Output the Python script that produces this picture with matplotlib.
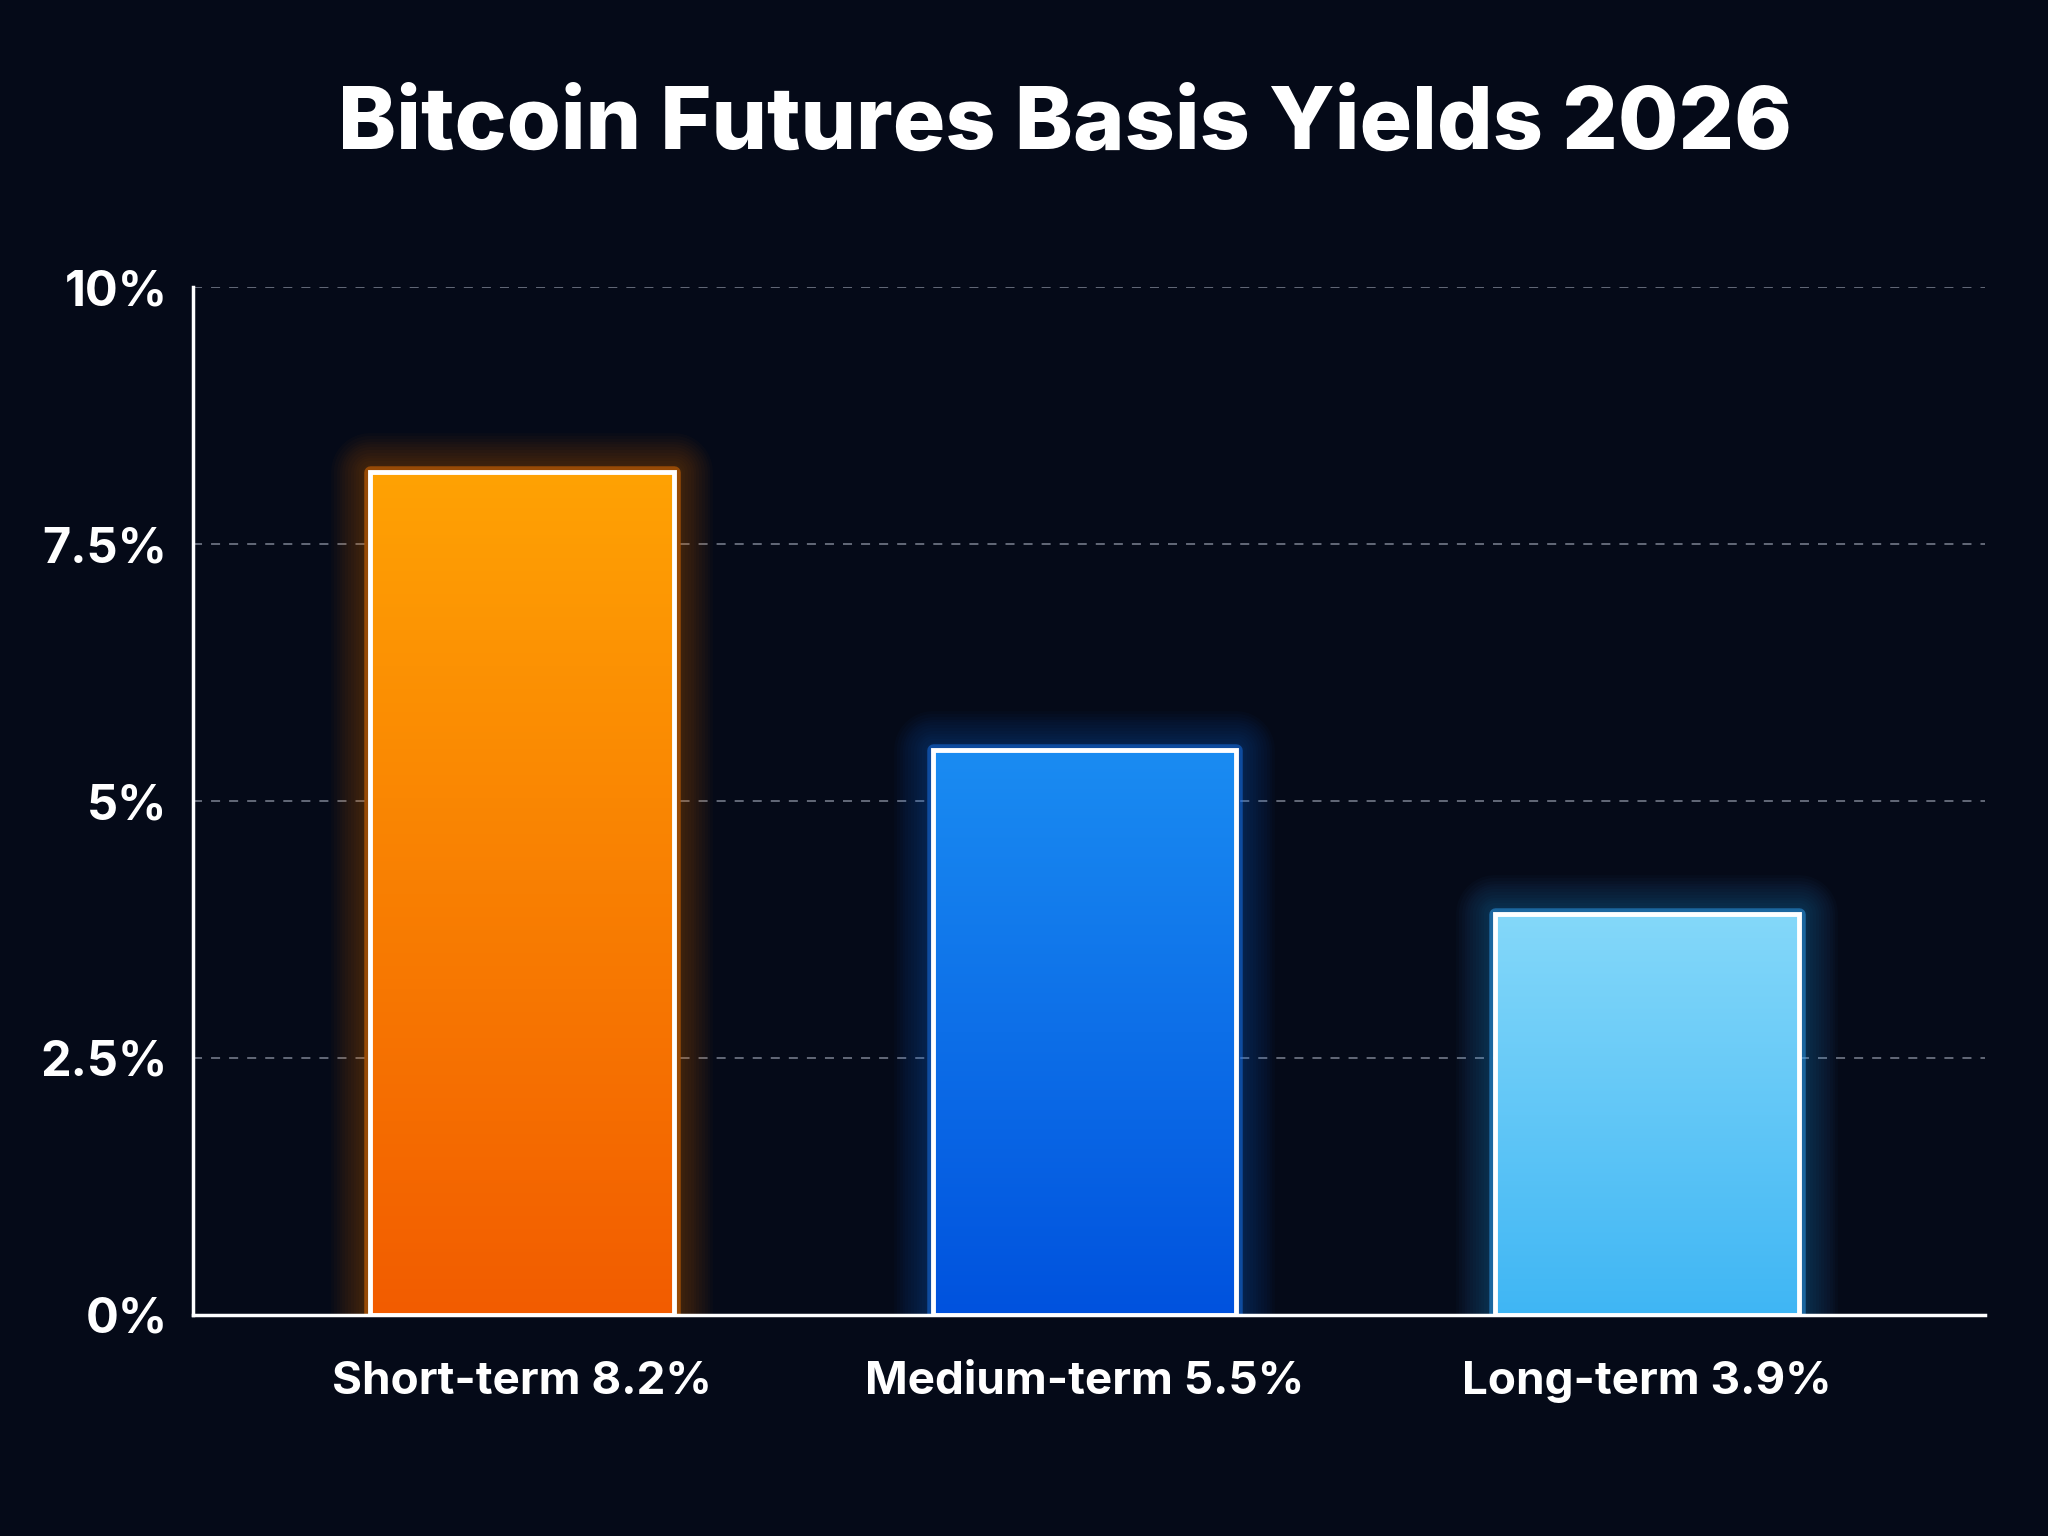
import matplotlib.pyplot as plt
import numpy as np
from matplotlib.colors import LinearSegmentedColormap
from matplotlib.patches import Rectangle

plt.rcParams['font.family'] = ['Inter', 'DejaVu Sans']

# data
categories = ['Short-term', 'Medium-term', 'Long-term']
yields = [8.2, 5.5, 3.9]
top_colors = ['#ffa204', '#1a8cf2', '#84d8fa']
bottom_colors = ['#f25c00', '#0052de', '#3fb6f4']
glow_colors = ['#ff7a00', '#1a7cff', '#33aaff']
y_ticks = [0, 2.5, 5, 7.5, 10]
y_tick_labels = ['0%', '2.5%', '5%', '7.5%', '10%']

bg = '#050a18'
fig = plt.figure(figsize=(20.48, 15.36), dpi=100, facecolor=bg)
ax = fig.add_axes([0.094, 0.144, 0.875, 0.669], facecolor=bg)

x = np.arange(len(categories))
width = 0.54

ax.set_xlim(-0.586, 2.6)
ax.set_ylim(0, 10)

# dashed grid
for t in y_ticks[1:]:
    ax.axhline(t, color='#6a7080', lw=1.3, ls=(0, (5, 5)), zorder=1)

for xi, val, c_top, c_bot, c_glow in zip(x, yields, top_colors, bottom_colors, glow_colors):
    left = xi - width / 2
    # soft glow: stacked translucent outlines
    for lw in np.arange(56, 4, -4):
        ax.add_patch(Rectangle((left, 0), width, val, fill=False, edgecolor=c_glow,
                               lw=lw, alpha=0.025, zorder=2, joinstyle='round'))
    ax.add_patch(Rectangle((left, 0), width, val, fill=False, edgecolor=c_glow,
                           lw=9, alpha=0.45, zorder=2, joinstyle='round'))
    # gradient fill
    cmap = LinearSegmentedColormap.from_list('g', [c_bot, c_top])
    grad = np.linspace(0, 1, 256).reshape(-1, 1)
    im = ax.imshow(grad, cmap=cmap, extent=[left, left + width, 0, val],
                   origin='lower', aspect='auto', zorder=3)
    rect = Rectangle((left, 0), width, val, fill=False, edgecolor='white', lw=3.5, zorder=4)
    ax.add_patch(rect)
    im.set_clip_path(rect)
    ax.text(xi, -0.65, f'{categories[xi]} {val}%', ha='center', va='center',
            color='white', fontsize=33, fontweight='bold', zorder=5)

ax.set_xticks([])
ax.set_yticks(y_ticks)
ax.set_yticklabels(y_tick_labels, color='white', fontsize=35, fontweight='bold')
ax.tick_params(axis='y', length=0, pad=18)

for s in ['top', 'right']:
    ax.spines[s].set_visible(False)
for s in ['left', 'bottom']:
    ax.spines[s].set_color('white')
    ax.spines[s].set_linewidth(2.5)
    ax.spines[s].set_zorder(6)

fig.text(0.52, 0.918, 'Bitcoin Futures Basis Yields 2026', ha='center', va='center',
         color='white', fontsize=63, fontweight='heavy')

fig.savefig('out.png', dpi=100, facecolor=bg)
